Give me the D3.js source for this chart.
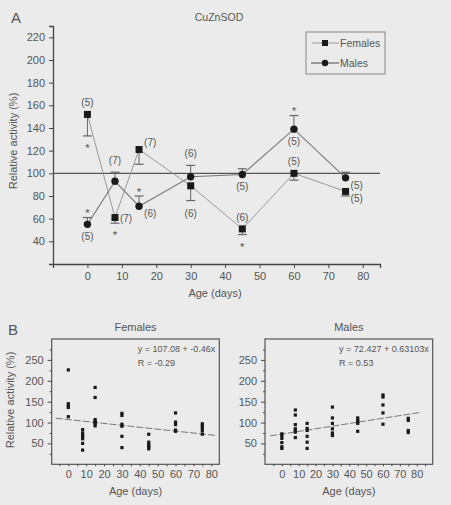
<!DOCTYPE html>
<html lang="en">
<head>
<meta charset="utf-8">
<title>CuZnSOD relative activity</title>
<script src="https://cdn.jsdelivr.net/npm/d3@7"></script>
<style>
body { margin: 0; background: #ebebeb; }
svg { display: block; font-family: "Liberation Sans", Arial, sans-serif; }
</style>
</head>
<body>
<script>
// Panel A: mean relative activity with one-sided SEM
var ages = [0, 8, 15, 30, 45, 60, 75];
var femaleMean = [152, 61, 121, 89, 51, 100, 84];
var femaleLow = [133, 56, 108, 76, 46, 94, 80];
var femaleN = [5, 7, 7, 6, 6, 5, 5];
var femaleStar = [true, true, false, false, true, false, false];
var femaleLabelAt = ["above", "right", "upright", "below", "above", "above", "lowright"];
var maleMean = [55, 93, 71, 97, 99, 139, 96];
var maleHigh = [61, 101, 80, 107, 104, 151, 101];
var maleN = [5, 7, 6, 6, 5, 5, 5];
var maleStar = [true, false, true, false, false, true, false];
var maleLabelAt = ["below", "above", "lowright", "above", "below", "below", "lowright"];
var aTicksX = [0, 10, 20, 30, 40, 50, 60, 70, 80];
var aTicksY = [40, 60, 80, 100, 120, 140, 160, 180, 200, 220];

// Panel B: individual values
var femaleDays = [0,0,0,0,0, 8,8,8,8,8,8,8, 15,15,15,15,15,15,15, 30,30,30,30,30,30, 45,45,45,45,45,45, 60,60,60,60,60, 75,75,75,75,75];
var femaleVals = [226,145,140,136,114, 83,75,70,66,61,50,34, 184,160,107,103,100,97,92, 122,117,96,91,67,40, 72,53,47,44,41,37, 123,101,95,82,79, 97,92,86,80,72];
var maleDays = [0,0,0,0,0,0, 8,8,8,8,8,8,8, 15,15,15,15,15,15, 30,30,30,30,30,30, 45,45,45,45,45, 60,60,60,60,60, 75,75,75,75];
var maleVals = [73,69,62,52,42,38, 130,118,95,85,81,77,64, 98,86,81,67,53,38, 137,111,98,85,75,69, 111,106,102,98,79, 166,161,142,123,96, 110,105,81,76];
var femaleFit = [107.08, -0.46];
var maleFit = [72.427, 0.63103];
var femaleFitText = ["y = 107.08 + -0.46x", "R = -0.29"];
var maleFitText = ["y = 72.427 + 0.63103x", "R = 0.53"];
var bTicksX = [0, 10, 20, 30, 40, 50, 60, 70, 80];
var bTicksY = [50, 100, 150, 200, 250];

var w = 451, h = 505;
var ink = "#444", soft = "#555";

var svg = d3.select("body").append("svg")
	.attr("width", w).attr("height", h);

//---------- Panel A ----------
var xA = d3.scaleLinear().domain([-10, 85]).range([53, 380]);
var yA = d3.scaleLinear().domain([20, 230]).range([264, 26]);

var gA = svg.append("g");

gA.append("text").attr("x", 11).attr("y", 23).attr("font-size", 15).attr("fill", soft).text("A");
gA.append("text").attr("x", 219).attr("y", 21).attr("text-anchor", "middle")
	.attr("font-size", 10.5).attr("fill", soft).text("CuZnSOD");

var axA = gA.append("g").attr("transform", "translate(0," + yA(20) + ")")
	.call(d3.axisBottom(xA).tickValues(aTicksX).tickSize(4).tickPadding(4));
var ayA = gA.append("g").attr("transform", "translate(" + xA(-10) + ",0)")
	.call(d3.axisLeft(yA).tickValues(aTicksY).tickSize(4).tickPadding(4));
[axA, ayA].forEach(function(a) {
	a.select(".domain").attr("stroke", ink).attr("stroke-width", 1.3);
	a.selectAll(".tick line").attr("stroke", ink);
	a.selectAll(".tick text").attr("fill", soft).attr("font-size", 11).attr("font-family", null);
});

gA.append("text").attr("x", 215).attr("y", 297).attr("text-anchor", "middle")
	.attr("font-size", 11).attr("fill", soft).text("Age (days)");
gA.append("text").attr("transform", "translate(17,141) rotate(-90)").attr("text-anchor", "middle")
	.attr("font-size", 11).attr("fill", soft).text("Relative activity (%)");

// reference line at 100 %
gA.append("line")
	.attr("x1", xA(-10)).attr("x2", xA(85))
	.attr("y1", yA(100)).attr("y2", yA(100))
	.attr("stroke", "#555").attr("stroke-width", 1.3);

var line = d3.line().x(function(d) { return xA(d[0]); }).y(function(d) { return yA(d[1]); });

gA.append("path").datum(d3.zip(ages, femaleMean)).attr("d", line)
	.attr("fill", "none").attr("stroke", "#999").attr("stroke-width", 1);
gA.append("path").datum(d3.zip(ages, maleMean)).attr("d", line)
	.attr("fill", "none").attr("stroke", "#777").attr("stroke-width", 1.1);

// error bars
function errBars(mean, end, col) {
	ages.forEach(function(a, i) {
		var x = xA(a);
		gA.append("line").attr("x1", x).attr("x2", x).attr("y1", yA(mean[i])).attr("y2", yA(end[i]))
			.attr("stroke", col).attr("stroke-width", 1);
		gA.append("line").attr("x1", x - 4.5).attr("x2", x + 4.5).attr("y1", yA(end[i])).attr("y2", yA(end[i]))
			.attr("stroke", col).attr("stroke-width", 1.2);
	});
}
errBars(femaleMean, femaleLow, "#666");
errBars(maleMean, maleHigh, "#666");

gA.selectAll("rect.fem").data(ages).enter().append("rect").attr("class", "fem")
	.attr("x", function(d) { return xA(d) - 3.5; })
	.attr("y", function(d, i) { return yA(femaleMean[i]) - 3.5; })
	.attr("width", 7).attr("height", 7).attr("fill", "#1a1a1a");
gA.selectAll("circle.mal").data(ages).enter().append("circle").attr("class", "mal")
	.attr("cx", function(d) { return xA(d); })
	.attr("cy", function(d, i) { return yA(maleMean[i]); })
	.attr("r", 3.7).attr("fill", "#1a1a1a");

// n labels and asterisks
function nLabels(mean, end, n, where) {
	ages.forEach(function(a, i) {
		var x = xA(a), cy = yA(mean[i]), ey = yA(end[i]), tx = x, ty, anchor = "middle";
		var top = Math.min(cy, ey), bottom = Math.max(cy, ey);
		if (where[i] == "above") ty = top - 8;
		else if (where[i] == "below") ty = bottom + 16;
		else {
			tx = x + 5; anchor = "start";
			ty = where[i] == "upright" ? cy - 4 : (where[i] == "right" ? cy + 4 : cy + 11);
		}
		gA.append("text").attr("x", tx).attr("y", ty).attr("text-anchor", anchor)
			.attr("font-size", 10).attr("fill", soft).text("(" + n[i] + ")");
	});
}
nLabels(femaleMean, femaleLow, femaleN, femaleLabelAt);
nLabels(maleMean, maleHigh, maleN, maleLabelAt);

ages.forEach(function(a, i) {
	if (femaleStar[i])
		gA.append("text").attr("x", xA(a)).attr("y", yA(femaleLow[i]) + 16).attr("text-anchor", "middle")
			.attr("font-size", 11.5).attr("fill", soft).text("*");
	if (maleStar[i])
		gA.append("text").attr("x", xA(a)).attr("y", yA(maleHigh[i]) - 0.5).attr("text-anchor", "middle")
			.attr("font-size", 11.5).attr("fill", soft).text("*");
});

// legend
var lg = gA.append("g");
lg.append("rect").attr("x", 306).attr("y", 32).attr("width", 79).attr("height", 42)
	.attr("fill", "none").attr("stroke", "#888").attr("stroke-width", 1);
lg.append("line").attr("x1", 312).attr("x2", 339).attr("y1", 43).attr("y2", 43).attr("stroke", "#999");
lg.append("rect").attr("x", 322).attr("y", 40).attr("width", 6).attr("height", 6).attr("fill", "#1a1a1a");
lg.append("text").attr("x", 340).attr("y", 47).attr("font-size", 10.5).attr("fill", soft).text("Females");
lg.append("line").attr("x1", 311).attr("x2", 339).attr("y1", 63).attr("y2", 63).attr("stroke", "#666").attr("stroke-width", 1.2);
lg.append("circle").attr("cx", 325).attr("cy", 63).attr("r", 3.2).attr("fill", "#1a1a1a");
lg.append("text").attr("x", 340).attr("y", 67).attr("font-size", 10.5).attr("fill", soft).text("Males");

//---------- Panel B ----------
svg.append("text").attr("x", 8).attr("y", 335).attr("font-size", 15).attr("fill", soft).text("B");

function scatterPanel(left, right, xDomain, title, days, vals, fit, fitText, showYLabel) {
	var x = d3.scaleLinear().domain(xDomain).range([left, right]);
	var y = d3.scaleLinear().domain([0, 300]).range([464.3, 339]);
	var g = svg.append("g");

	g.append("rect").attr("x", left).attr("y", y(300)).attr("width", right - left).attr("height", y(0) - y(300))
		.attr("fill", "none").attr("stroke", soft).attr("stroke-width", 1.2);

	g.append("text").attr("x", (left + right) / 2).attr("y", 331).attr("text-anchor", "middle")
		.attr("font-size", 11).attr("fill", soft).text(title);

	var minorX = d3.range(-5, xDomain[1], 5);
	g.append("g").attr("transform", "translate(0," + y(0) + ")")
		.call(d3.axisBottom(x).tickValues(minorX).tickSize(2).tickFormat(""))
		.call(function(s) { s.select(".domain").remove(); s.selectAll("line").attr("stroke", ink); });
	g.append("g").attr("transform", "translate(0," + y(0) + ")")
		.call(d3.axisBottom(x).tickValues(bTicksX).tickSize(0).tickPadding(6))
		.call(function(s) {
			s.select(".domain").remove();
			s.selectAll("text").attr("fill", soft).attr("font-size", 11).attr("font-family", null);
		});

	g.append("g").attr("transform", "translate(" + left + ",0)")
		.call(d3.axisLeft(y).tickValues(d3.range(25, 300, 50)).tickSize(2).tickFormat(""))
		.call(function(s) { s.select(".domain").remove(); s.selectAll("line").attr("stroke", ink); });
	g.append("g").attr("transform", "translate(" + left + ",0)")
		.call(d3.axisLeft(y).tickValues(bTicksY).tickSize(4).tickPadding(4))
		.call(function(s) {
			s.select(".domain").remove();
			s.selectAll("line").attr("stroke", ink);
			s.selectAll("text").attr("fill", soft).attr("font-size", 11).attr("font-family", null);
		});

	// fitted regression line
	var fx = [-7, 82.5];
	g.append("line")
		.attr("x1", x(fx[0])).attr("y1", y(fit[0] + fit[1] * fx[0]))
		.attr("x2", x(fx[1])).attr("y2", y(fit[0] + fit[1] * fx[1]))
		.attr("stroke", "#777").attr("stroke-width", 1).attr("stroke-dasharray", "7,2");

	g.selectAll("rect.pt").data(days).enter().append("rect").attr("class", "pt")
		.attr("x", function(d) { return x(d) - 1.6; })
		.attr("y", function(d, i) { return y(vals[i]) - 1.6; })
		.attr("width", 3.2).attr("height", 3.2).attr("fill", "#1a1a1a");

	var ft = g.selectAll("text.fit").data(fitText).enter().append("text").attr("class", "fit")
		.attr("y", function(d, i) { return 352 + i * 13.5; })
		.attr("font-size", 9).attr("fill", soft).text(function(d) { return d; });
	var fw = ft.node().getComputedTextLength();
	ft.attr("x", right - 4 - fw);

	g.append("text").attr("x", (left + right) / 2).attr("y", 495).attr("text-anchor", "middle")
		.attr("font-size", 11).attr("fill", soft).text("Age (days)");
	if (showYLabel)
		g.append("text").attr("transform", "translate(14,400) rotate(-90)").attr("text-anchor", "middle")
			.attr("font-size", 11).attr("fill", soft).text("Relative activity (%)");
}

scatterPanel(51.7, 219.3, [-9.3, 84.5], "Females", femaleDays, femaleVals, femaleFit, femaleFitText, true);
scatterPanel(265, 432.7, [-10, 89.5], "Males", maleDays, maleVals, maleFit, maleFitText, false);
</script>
</body>
</html>
